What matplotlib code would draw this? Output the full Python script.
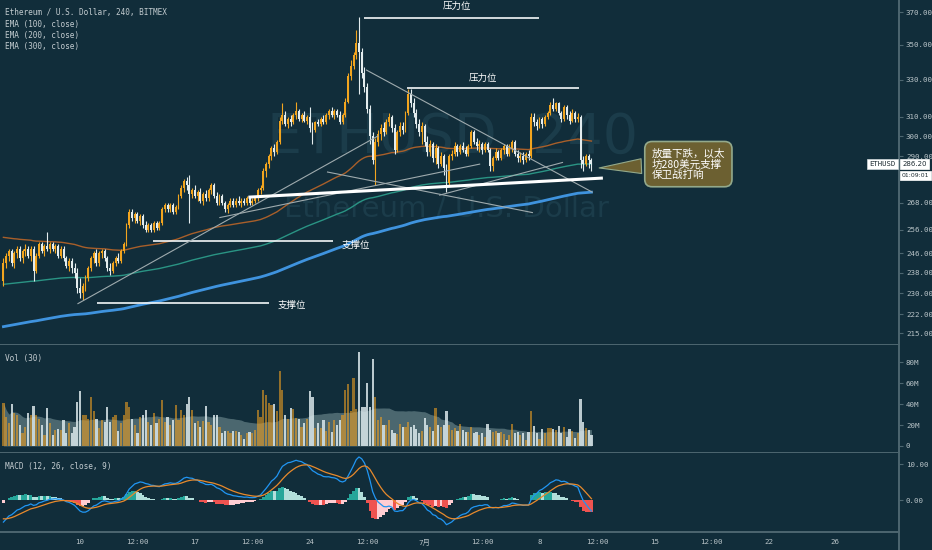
import numpy as np
import pandas as pd
import matplotlib
matplotlib.use("Agg")
import matplotlib.pyplot as plt
import matplotlib.dates as mdates
from matplotlib.ticker import FixedLocator, NullLocator, FuncFormatter

# ---- data (ETHUSD, 4h, BITMEX) ----
start_time = "2019-06-05 08:00"

opens = [235, 242, 245, 247, 242, 246, 248, 244, 247, 248, 245, 248,
         239, 245, 250, 247, 249, 248, 250, 248, 249, 245, 248, 244,
         241, 243, 240, 238, 232, 230, 233, 236, 240, 244, 246, 242,
         246, 247, 244, 240, 239, 242, 244, 243, 247, 250, 258, 264,
         261, 263, 260, 262, 258, 256, 258, 256, 259, 257, 259, 265,
         267, 265, 267, 264, 266, 271, 275, 278, 276, 272, 274, 271,
         273, 269, 272, 270, 274, 276, 271, 268, 271, 268, 265, 267,
         269, 267, 269, 268, 269, 268, 270, 268, 269, 270, 274, 275,
         283, 286, 290, 294, 292, 297, 308, 311, 306, 309, 307, 311,
         313, 309, 311, 308, 310, 304, 303, 307, 306, 309, 307, 311,
         313, 311, 313, 311, 307, 311, 318, 332, 338, 344, 351, 346,
         334, 326, 314, 300, 288, 297, 301, 304, 302, 307, 310, 304,
         293, 302, 305, 303, 312, 322, 317, 312, 306, 302, 305, 297,
         292, 296, 289, 294, 286, 290, 284, 277, 290, 291, 295, 292,
         295, 293, 291, 295, 302, 297, 295, 296, 293, 296, 293, 285,
         289, 292, 289, 293, 295, 291, 294, 297, 291, 289, 290, 288,
         291, 290, 310, 307, 305, 309, 306, 310, 312, 316, 314, 317,
         312, 309, 315, 311, 308, 312, 309, 310, 288, 286, 290, 288]
highs = [244, 246, 248, 248, 247, 249, 249, 248, 250, 249, 249, 249,
         246, 251, 251, 250, 255, 251, 251, 250, 250, 249, 249, 245,
         244, 244, 242, 240, 236, 234, 237, 241, 245, 247, 248, 247,
         248, 248, 245, 242, 243, 245, 246, 248, 251, 259, 265, 265,
         264, 264, 263, 263, 260, 259, 259, 260, 260, 260, 266, 268,
         268, 268, 268, 267, 272, 276, 279, 280, 281, 275, 276, 274,
         275, 273, 274, 275, 277, 277, 273, 272, 272, 269, 268, 270,
         270, 270, 271, 270, 270, 271, 271, 270, 271, 275, 276, 284,
         287, 291, 295, 296, 298, 310, 317, 313, 310, 311, 312, 318,
         314, 312, 313, 311, 315, 307, 308, 309, 310, 311, 312, 314,
         315, 314, 314, 313, 312, 320, 334, 341, 346, 359, 367, 348,
         337, 328, 316, 302, 299, 303, 306, 307, 309, 312, 311, 306,
         303, 307, 307, 313, 325, 325, 320, 314, 309, 307, 306, 300,
         298, 297, 296, 295, 292, 291, 286, 291, 293, 297, 296, 296,
         297, 295, 296, 303, 303, 299, 298, 297, 297, 297, 294, 290,
         294, 293, 294, 296, 296, 296, 298, 298, 293, 292, 292, 292,
         293, 312, 312, 309, 310, 310, 311, 313, 318, 320, 318, 318,
         313, 316, 316, 313, 314, 313, 312, 311, 290, 291, 291, 289]
lows = [233, 240, 243, 241, 240, 244, 243, 242, 245, 244, 243, 235,
        238, 244, 246, 245, 247, 246, 247, 246, 244, 244, 243, 240,
        239, 238, 236, 230, 228, 227.5, 231, 235, 239, 242, 241, 241,
        244, 243, 239, 237, 238, 241, 242, 242, 246, 249, 257, 260,
        259, 259, 258, 257, 255, 255, 255, 255, 256, 256, 258, 264,
        264, 264, 263, 263, 265, 270, 273, 274, 259, 270, 270, 269,
        268, 267, 269, 269, 272, 270, 267, 267, 267, 264, 263.5, 266,
        266, 266, 267, 266, 267, 267, 267, 267, 268, 269, 272, 274,
        280, 284, 288, 290, 291, 296, 306, 305, 304, 305, 306, 309,
        308, 307, 307, 306, 302, 296, 302, 305, 305, 306, 306, 309,
        310, 309, 310, 306, 306, 310, 317, 330, 336, 342, 322, 331,
        323, 312, 296, 286, 276, 295, 298, 300, 301, 305, 302, 291,
        292, 300, 301, 302, 311, 315, 310, 304, 300, 296, 295, 290,
        290, 287, 286, 284, 285, 281, 273, 276, 288, 290, 290, 291,
        292, 290, 290, 294, 296, 293, 292, 291, 292, 292, 283, 283,
        288, 288, 288, 291, 290, 290, 292, 290, 287, 287, 286, 287,
        288, 289, 305, 303, 304, 304, 305, 309, 311, 313, 313, 311,
        307, 308, 309, 306, 307, 307, 307, 284, 283, 285, 284, 283]
closes = [242, 245, 247, 242, 246, 248, 244, 247, 248, 245, 248, 239,
          245, 250, 247, 249, 248, 250, 248, 249, 245, 248, 244, 241,
          243, 240, 238, 232, 230, 233, 236, 240, 244, 246, 242, 246,
          247, 244, 240, 239, 242, 244, 243, 247, 250, 258, 264, 261,
          263, 260, 262, 258, 256, 258, 256, 259, 257, 259, 265, 267,
          265, 267, 264, 266, 271, 275, 278, 276, 272, 274, 271, 273,
          269, 272, 270, 274, 276, 271, 268, 271, 268, 265, 267, 269,
          267, 269, 268, 269, 268, 270, 268, 269, 270, 274, 275, 283,
          286, 290, 294, 292, 297, 308, 311, 306, 309, 307, 311, 313,
          309, 311, 308, 310, 304, 303, 307, 306, 309, 307, 311, 313,
          311, 313, 311, 307, 311, 318, 332, 338, 344, 351, 346, 334,
          326, 314, 300, 288, 297, 301, 304, 302, 307, 310, 304, 293,
          302, 305, 303, 312, 322, 317, 312, 306, 302, 305, 297, 292,
          296, 289, 294, 286, 290, 284, 277, 290, 291, 295, 292, 295,
          293, 291, 295, 302, 297, 295, 296, 293, 296, 293, 285, 289,
          292, 289, 293, 295, 291, 294, 297, 291, 289, 290, 288, 291,
          290, 310, 307, 305, 309, 306, 310, 312, 316, 314, 317, 312,
          309, 315, 311, 308, 312, 309, 310, 288, 286, 290, 288, 286.2]
volumes = [41, 28, 22, 40, 31, 30, 20, 12, 18, 31, 30, 38,
           30, 26, 20, 10, 36, 22, 10, 15, 16, 15, 25, 12,
           22, 12, 18, 42, 52, 30, 30, 26, 47, 33, 26, 17,
           25, 23, 37, 23, 28, 30, 14, 22, 30, 42, 37, 26,
           20, 12, 28, 30, 34, 23, 20, 31, 22, 26, 44, 23,
           28, 20, 25, 39, 25, 34, 30, 40, 47, 34, 22, 24,
           18, 24, 38, 23, 20, 30, 30, 18, 12, 14, 14, 12,
           14, 14, 13, 10, 7, 12, 13, 12, 15, 34, 28, 53,
           49, 41, 39, 40, 33, 71, 53, 30, 26, 36, 35, 27,
           26, 18, 22, 26, 52, 47, 17, 22, 17, 25, 14, 23,
           13, 25, 20, 25, 30, 53, 59, 33, 65, 35, 90, 37,
           37, 60, 37, 83, 47, 25, 28, 20, 20, 25, 15, 12,
           11, 21, 18, 18, 23, 18, 20, 16, 12, 14, 27, 20,
           18, 14, 36, 20, 18, 20, 33, 20, 15, 17, 14, 21,
           15, 13, 13, 18, 12, 13, 10, 12, 9, 21, 15, 13,
           14, 12, 13, 11, 6, 10, 21, 12, 13, 10, 12, 6,
           13, 33, 19, 12, 7, 16, 12, 17, 17, 16, 15, 19,
           12, 18, 9, 16, 14, 8, 12, 45, 23, 17, 15, 10]  # millions

# indicator values at the left edge of the window
ema100_start = 253.0
ema200_start = 233.4
ema300_start = 217.2
macd_fast_start = 240.0
macd_slow_start = 246.8
macd_signal_start = -5.0

price_ticks = [370, 350, 330, 310, 300, 290, 268, 256, 246, 238, 230, 222, 215]
vol_ticks = [0, 20, 40, 60, 80]
vol_tick_labels = ["0", "20M", "40M", "60M", "80M"]
macd_ticks = [0, 10]
time_ticks = ["2019-06-10", "2019-06-13 12:00", "2019-06-17", "2019-06-20 12:00",
              "2019-06-24", "2019-06-27 12:00", "2019-07-01", "2019-07-04 12:00",
              "2019-07-08", "2019-07-11 12:00", "2019-07-15", "2019-07-18 12:00",
              "2019-07-22", "2019-07-26"]
time_labels = ["10", "12:00", "17", "12:00", "24", "12:00", "7月", "12:00",
               "8", "12:00", "15", "12:00", "22", "26"]

# drawings: ((time, price), (time, price))
resistance_lines = [(("2019-06-27 08:00", 366.3), ("2019-07-08 00:00", 366.3)),
                    (("2019-06-29 22:00", 325.4), ("2019-07-10 10:00", 325.4))]
resistance_labels = [("2019-07-02 23:00", 373.6), ("2019-07-04 13:00", 331.0)]
support_lines = [(("2019-06-14 10:30", 251.2), ("2019-06-25 09:30", 251.2)),
                 (("2019-06-11 00:45", 226.2), ("2019-06-21 12:00", 226.2))]
support_labels = [("2019-06-25 22:00", 249.6), ("2019-06-22 01:00", 225.3)]
main_trendline = (("2019-06-20 08:30", 270.6), ("2019-07-11 18:30", 279.4))
thin_lines = [(("2019-06-09 21:00", 226.0), ("2019-06-28 03:30", 300.0)),
              (("2019-06-27 11:00", 335.4), ("2019-07-11 05:00", 272.9)),
              (("2019-06-25 02:00", 282.3), ("2019-07-07 13:40", 263.6)),
              (("2019-06-18 12:30", 261.4), ("2019-07-04 08:30", 286.1)),
              (("2019-07-01 22:00", 271.5), ("2019-07-09 09:40", 286.9))]
callout_text = "放量下跌，以太\n坊280美元支撑\n保卫战打响"
callout_tip = ("2019-07-11 11:15", 284.2)
callout_anchor = ("2019-07-14 20:00", 286.1)
last_price = 286.2
countdown = "01:09:01"

# ---- style ----
BG = "#112d3a"
SEP = "#4d6670"
TXT = "#b8c3c7"
UP = "#f2a51f"
DOWN = "#e3ecee"
MONO = ["DejaVu Sans Mono", "Noto Sans CJK SC"]
CJK = ["Noto Sans CJK SC", "DejaVu Sans"]

W, H = 932, 550


def rect(x0, y0, x1, y1):
    return [x0 / W, 1 - y1 / H, (x1 - x0) / W, (y1 - y0) / H]


def style_axis(a):
    a.set_facecolor(BG)
    for s in ("top", "left"):
        a.spines[s].set_visible(False)
    for s in ("right", "bottom"):
        a.spines[s].set_color(SEP)
        a.spines[s].set_linewidth(1.4)
    a.yaxis.tick_right()
    a.tick_params(axis="y", colors=SEP, labelcolor=TXT, length=3, width=0.8,
                  pad=2, labelsize=5.4)


def seeded_ema(values, seed, span):
    s = pd.Series([seed] + list(values), dtype=float)
    return s.ewm(span=span, adjust=False).mean().iloc[1:].to_numpy()


def t(s):
    return mdates.date2num(pd.Timestamp(s))


times = pd.date_range(start_time, periods=len(closes), freq="4h")
x = mdates.date2num(times)
o = np.array(opens, float)
h = np.array(highs, float)
l = np.array(lows, float)
c = np.array(closes, float)
v = np.array(volumes, float)
up = c >= o
cols = np.where(up, UP, DOWN)

ema100 = seeded_ema(c, ema100_start, 100)
ema200 = seeded_ema(c, ema200_start, 200)
ema300 = seeded_ema(c, ema300_start, 300)
fast = seeded_ema(c, macd_fast_start, 12)
slow = seeded_ema(c, macd_slow_start, 26)
macd = fast - slow
signal = seeded_ema(macd, macd_signal_start, 9)
hist = macd - signal
vol_ma = pd.Series(v).rolling(30, min_periods=1).mean().to_numpy()

fig = plt.figure(figsize=(W / 100, H / 100), dpi=100, facecolor=BG)
ax = fig.add_axes(rect(0, 0, 899, 344.5))
axv = fig.add_axes(rect(0, 344.5, 899, 452.5), sharex=ax)
axm = fig.add_axes(rect(0, 452.5, 899, 531.5), sharex=ax)
for a in (ax, axv, axm):
    style_axis(a)

px_per_day = 16.41
x_left = t("2019-06-10") - 80 / px_per_day
ax.set_xlim(x_left, x_left + 899 / px_per_day)

# ---- main price pane ----
ax.set_yscale("log")
ax.set_ylim(210.9, 377.6)
ax.yaxis.set_major_locator(FixedLocator(price_ticks))
ax.yaxis.set_minor_locator(NullLocator())
ax.yaxis.set_major_formatter(FuncFormatter(lambda val, pos: f"{val:.2f}"))
ax.tick_params(axis="x", bottom=False, labelbottom=False)

ax.text(0.503, 0.60, "ETHUSD, 240", transform=ax.transAxes, ha="center",
        va="center", fontsize=40, color="#1b3c4a", zorder=0)
ax.text(0.497, 0.395, "Ethereum / U.S. Dollar", transform=ax.transAxes,
        ha="center", va="center", fontsize=21, color="#1b3c4a", zorder=0)

ax.plot(x, ema100, color="#a85f2a", lw=1.0, zorder=2)
ax.plot(x, ema200, color="#2a9484", lw=1.0, zorder=2)
ax.plot(x, ema300, color="#3f93de", lw=2.0, zorder=2)

bar_w = 0.7 / 6
ax.vlines(x, l, h, colors=cols, lw=0.8, zorder=3)
body_lo = np.minimum(o, c)
body_h = np.maximum(np.abs(c - o), 0.3)
ax.bar(x, body_h, bottom=body_lo, width=bar_w, color=cols, linewidth=0, zorder=3)

line_kw = dict(color="#f4f7f8", lw=1.2, zorder=4, solid_capstyle="butt")
for (p0, p1) in resistance_lines + support_lines:
    ax.plot([t(p0[0]), t(p1[0])], [p0[1], p1[1]], **line_kw)
for (tx, py) in resistance_labels:
    ax.text(t(tx), py, "压力位", ha="center", va="center", color="white",
            fontsize=6.8, family=CJK, zorder=5)
for (tx, py) in support_labels:
    ax.text(t(tx), py, "支撑位", ha="left", va="center", color="white",
            fontsize=6.8, family=CJK, zorder=5)
for (p0, p1) in thin_lines:
    ax.plot([t(p0[0]), t(p1[0])], [p0[1], p1[1]], color="#9fabae", lw=0.8, zorder=4)
p0, p1 = main_trendline
ax.plot([t(p0[0]), t(p1[0])], [p0[1], p1[1]], color="white", lw=2.2, zorder=4)

ax.annotate(callout_text, xy=(t(callout_tip[0]), callout_tip[1]),
            xytext=(t(callout_anchor[0]), callout_anchor[1]), ha="left",
            va="center", color="white", fontsize=7.6, family=CJK,
            linespacing=1.05, zorder=6,
            bbox=dict(boxstyle="round,pad=0.65,rounding_size=0.7",
                      fc="#6c6031", ec="#93a98b", lw=1.2),
            arrowprops=dict(arrowstyle="wedge,tail_width=1.4,shrink_factor=0.5",
                            fc="#6c6031", ec="#93a98b", lw=0.8))

ytr = ax.get_yaxis_transform()
ax.annotate("ETHUSD", xy=(1, last_price), xycoords=ytr, xytext=(-2.5, 0),
            textcoords="offset points", ha="right", va="center", fontsize=5.2,
            family="DejaVu Sans Mono", color="#1d2b31", zorder=7,
            bbox=dict(boxstyle="square,pad=0.3", fc="white", ec="#cfd8da", lw=0.5))
ax.annotate(f"{last_price:.2f}", xy=(1, last_price), xycoords=ytr, xytext=(2.5, 0),
            textcoords="offset points", ha="left", va="center", fontsize=5.0,
            family="DejaVu Sans", color="#1d2b31", zorder=7,
            annotation_clip=False,
            bbox=dict(boxstyle="square,pad=0.3", fc="white", ec="white", lw=0.5))
ax.annotate(countdown, xy=(1, last_price), xycoords=ytr, xytext=(1.8, -8.5),
            textcoords="offset points", ha="left", va="center", fontsize=4.4,
            family="DejaVu Sans", color="#1d2b31", zorder=7,
            annotation_clip=False,
            bbox=dict(boxstyle="square,pad=0.3", fc="white", ec="white", lw=0.5))

# ---- volume pane ----
axv.set_ylim(-6.2, 96.7)
axv.fill_between(x, 0, vol_ma, color="#a3c0c1", alpha=0.4, lw=0, zorder=1)
vcols = [(0.95, 0.63, 0.13, 0.58) if u else (0.88, 0.93, 0.94, 0.82) for u in up]
axv.bar(x, v, width=0.8 / 6, color=vcols, linewidth=0, zorder=2)
axv.yaxis.set_major_locator(FixedLocator(vol_ticks))
axv.set_yticklabels(vol_tick_labels)
axv.tick_params(axis="x", bottom=False, labelbottom=False)

# ---- MACD pane ----
axm.set_ylim(-8.75, 13.2)
hcols = []
for i, hv in enumerate(hist):
    prev = hist[i - 1] if i > 0 else hv
    if hv >= 0:
        hcols.append("#26a69a" if hv >= prev else "#b2dfdb")
    else:
        hcols.append("#ffcdd2" if hv >= prev else "#ef5350")
axm.bar(x, hist, width=1 / 6, color=hcols, linewidth=0, zorder=1)
axm.plot(x, macd, color="#2196f3", lw=0.9, zorder=2)
axm.plot(x, signal, color="#e88a2c", lw=0.9, zorder=2)
axm.yaxis.set_major_locator(FixedLocator(macd_ticks))
axm.yaxis.set_major_formatter(FuncFormatter(lambda val, pos: f"{val:.2f}"))

axm.xaxis.set_major_locator(FixedLocator([t(s) for s in time_ticks]))
axm.set_xticklabels(time_labels, family=MONO)
axm.tick_params(axis="x", colors=SEP, labelcolor=TXT, length=0, pad=5.5,
                labelsize=5.4)

for a in (ax, axv, axm):
    for lab in a.get_yticklabels():
        lab.set_family("DejaVu Sans Mono")

# legends
legend_kw = dict(fontsize=5.6, family="DejaVu Sans Mono", color="#c3ccd0",
                 va="center", ha="left")
fig.text(5 / W, 1 - 12 / H, "Ethereum / U.S. Dollar, 240, BITMEX", **legend_kw)
fig.text(5 / W, 1 - 24 / H, "EMA (100, close)", **legend_kw)
fig.text(5 / W, 1 - 35.5 / H, "EMA (200, close)", **legend_kw)
fig.text(5 / W, 1 - 47 / H, "EMA (300, close)", **legend_kw)
fig.text(5 / W, 1 - 358 / H, "Vol (30)", **legend_kw)
fig.text(5 / W, 1 - 466 / H, "MACD (12, 26, close, 9)", **legend_kw)

fig.add_artist(plt.Line2D([899 / W, 899 / W], [0, 18.5 / H], color=SEP, lw=1.4))

fig.savefig("out.png", dpi=100, facecolor=BG)
